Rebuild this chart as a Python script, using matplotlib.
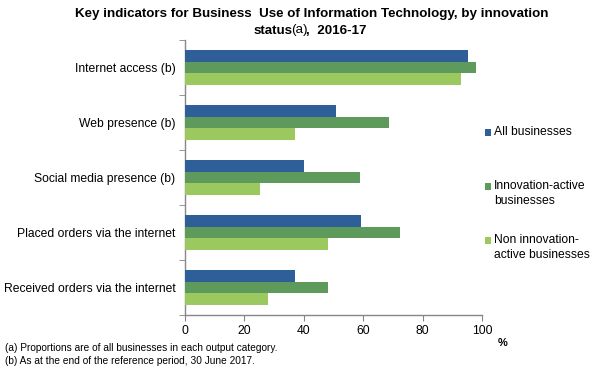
import matplotlib
matplotlib.use("Agg")
import matplotlib.pyplot as plt
import matplotlib.patches as mpatches
from matplotlib.container import BarContainer
from matplotlib.legend_handler import HandlerPatch, update_from_first_child
import numpy as np

categories = [
    "Internet access (b)",
    "Web presence (b)",
    "Social media presence (b)",
    "Placed orders via the internet",
    "Received orders via the internet",
]
all_biz = [95.4, 51.0, 40.2, 59.1, 36.9]
innov_active = [98.1, 68.6, 58.9, 72.5, 48.3]
non_innov = [93.0, 36.9, 25.4, 48.3, 27.8]
series_labels = ["All businesses\n", "Innovation-active\nbusinesses",
                 "Non innovation-\nactive businesses"]
xticks = [0, 20, 40, 60, 80, 100]

BLUE = "#2F5F98"
GREEN = "#5F9A5D"
LIGHT = "#9BC960"
AXIS = "#868686"
TEXT = "#000000"

plt.rcParams.update({
    "font.family": ["Liberation Sans", "DejaVu Sans"],
    "font.size": 8.7,
    "text.color": TEXT,
})

fig = plt.figure(figsize=(6.02, 3.82), dpi=100)
ax = fig.add_axes([185 / 602, 1 - 315 / 382, 297 / 602, 275 / 382])

y = np.arange(len(categories))
h = 0.218
for off, vals, color, label in [
    (-h, all_biz, BLUE, series_labels[0]),
    (0, innov_active, GREEN, series_labels[1]),
    (h, non_innov, LIGHT, series_labels[2]),
]:
    ax.barh(y + off, vals, height=h, color=color, label=label, zorder=3)

ax.set_ylim(len(categories) - 0.5, -0.5)
ax.set_yticks(y)
ax.set_yticklabels(categories)
ax.set_yticks(np.arange(len(categories) + 1) - 0.5, minor=True)
ax.tick_params(axis="y", which="major", length=0, pad=7)
ax.tick_params(axis="y", which="minor", length=4, color=AXIS, direction="out")

ax.set_xlim(0, 100)
ax.set_xticks(xticks)
ax.set_xticklabels([str(v) for v in xticks])
ax.tick_params(axis="x", length=4, color=AXIS, direction="out", pad=3)

for s in ("top", "right"):
    ax.spines[s].set_visible(False)
for s in ("left", "bottom"):
    ax.spines[s].set_color(AXIS)
    ax.spines[s].set_linewidth(1.0)

fig.text(503 / 602, 1 - 343 / 382, "%", fontsize=8, fontweight="bold",
         ha="center", va="center")


# small square handles, sitting next to the first line of each label
def square(legend, orig_handle, xdescent, ydescent, width, height, fontsize):
    s = 0.55 * fontsize
    return mpatches.Rectangle((width - s, height / 2 - s / 2 + 0.65 * fontsize),
                              s, s)


handles, labels = ax.get_legend_handles_labels()
leg = fig.legend(handles, labels, loc="upper left",
                 bbox_to_anchor=(484 / 602, 1 - 126 / 382), frameon=False,
                 handler_map={BarContainer: HandlerPatch(
                     patch_func=square, update_func=update_from_first_child)},
                 handlelength=0.6, handleheight=0.6, handletextpad=0.2,
                 labelspacing=2.22, borderpad=0, borderaxespad=0)
for t in leg.get_texts():
    t.set_linespacing(1.35)

# title, with "(a)" in regular weight
fig.text(312 / 602, 1 - 14 / 382,
         "Key indicators for Business  Use of Information Technology, by innovation",
         fontsize=9.6, fontweight="bold", ha="center", va="center")
parts = [("status", "bold"), ("(a)", "normal"), (",  2016-17", "bold")]
renderer = fig.canvas.get_renderer()
texts = []
for s, w in parts:
    texts.append(fig.text(0, 1 - 30.5 / 382, s, fontsize=9.6, fontweight=w,
                          ha="left", va="center"))
widths = [t.get_window_extent(renderer).width - 1.5 for t in texts]
x0 = 309 - sum(widths) / 2
for t, w in zip(texts, widths):
    t.set_x(x0 / 602)
    x0 += w

fig.text(5 / 602, 1 - 348 / 382,
         "(a) Proportions are of all businesses in each output category.",
         fontsize=7.3, ha="left", va="center")
fig.text(5 / 602, 1 - 361 / 382,
         "(b) As at the end of the reference period, 30 June 2017.",
         fontsize=7.3, ha="left", va="center")

fig.savefig("out.png", dpi=100, facecolor="white")
